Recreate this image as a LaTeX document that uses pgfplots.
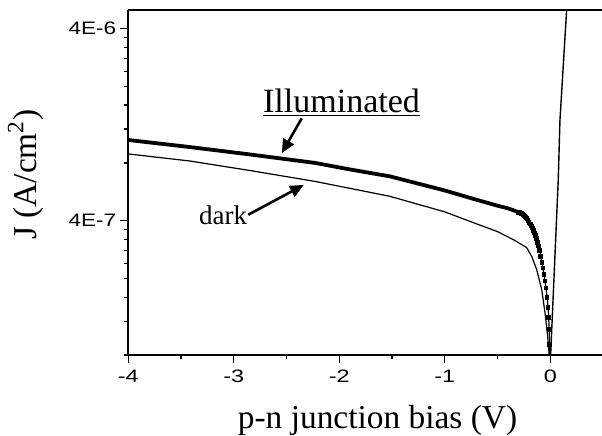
\documentclass[border=0pt]{standalone}
\usepackage{fontspec}
\setmainfont{Liberation Serif}
\newfontfamily\tickfont{Liberation Sans}
\usepackage{pgfplots}
\pgfplotsset{compat=1.18}
\usetikzlibrary{arrows.meta}

\begin{document}
\begin{tikzpicture}
\begin{axis}[
  scale only axis,
  width=237.35pt, height=172.5pt,
  ymode=log,
  xmin=-4, xmax=0.5,
  ymin=8e-8, ymax=5e-6,
  axis x line=box, axis y line=left,
  x axis line style={-}, y axis line style={-},
  axis line style={line width=0.9pt},
  xtick={-4,-3,-2,-1,0},
  xticklabels={-4,-3,-2,-1,0},
  minor xtick={-3.5,-2.5,-1.5,-0.5},
  ytick={4e-7,4e-6},
  yticklabels={4E-7,4E-6},
  minor ytick={8e-8,1.2e-7,1.6e-7,2e-7,2.4e-7,2.8e-7,3.2e-7,3.6e-7,8e-7,1.2e-6,1.6e-6,2e-6,2.4e-6,2.8e-6,3.2e-6,3.6e-6},
  xtick pos=left, ytick pos=left,
  tick align=outside,
  major tick length=4pt, minor tick length=2.2pt,
  every tick/.style={line width=0.7pt, black},
  xticklabel style={font=\tickfont\fontsize{9}{10}\selectfont, xscale=1.3},
  yticklabel style={font=\tickfont\fontsize{9}{10}\selectfont, xscale=1.25, inner xsep=1.5pt},
  xlabel={p-n junction bias (V)},
  ylabel={J (A/cm\textsuperscript{2})},
  xlabel style={font=\fontsize{16.7}{18}\selectfont, at={(axis description cs:0.525,-0.2116)}, anchor=base},
  ylabel style={font=\fontsize{16.7}{18}\selectfont, at={(axis description cs:-0.1944,0.523)}, anchor=base},
  clip=true,
]
\coordinate (bl) at (rel axis cs:0,0);
\coordinate (tr) at (rel axis cs:1,1);

% Illuminated, main part
\addplot[black, line width=1.9pt] coordinates {
(-4.00,1.053e-6) (-3.42,9.68e-7) (-2.85,8.86e-7) (-2.23,8.00e-7) (-1.90,7.40e-7)
(-1.52,6.81e-7) (-1.00,5.75e-7) (-0.75,5.24e-7) (-0.50,4.79e-7) (-0.40,4.64e-7) (-0.30,4.43e-7)
};
% Illuminated, knee with visible markers
\addplot[black, line width=0.6pt, mark=square*, mark size=0.85pt] coordinates {
(-0.30,4.43e-7) (-0.29,4.40e-7) (-0.28,4.38e-7) (-0.27,4.35e-7) (-0.26,4.30e-7) (-0.25,4.27e-7)
(-0.24,4.22e-7) (-0.23,4.17e-7) (-0.22,4.10e-7) (-0.21,4.02e-7) (-0.20,3.93e-7) (-0.19,3.84e-7)
(-0.18,3.75e-7) (-0.17,3.66e-7) (-0.16,3.55e-7) (-0.15,3.45e-7) (-0.14,3.34e-7) (-0.13,3.23e-7)
(-0.12,3.09e-7) (-0.11,2.95e-7) (-0.10,2.80e-7) (-0.09,2.60e-7) (-0.08,2.42e-7) (-0.07,2.27e-7)
(-0.06,2.10e-7) (-0.05,1.94e-7) (-0.04,1.79e-7) (-0.03,1.59e-7) (-0.02,1.41e-7) (-0.015,1.25e-7)
(-0.01,1.09e-7) (-0.007,9.09e-8) (-0.005,6e-8) (-0.003,2e-8)
};
% Dark
\addplot[black, line width=0.6pt] coordinates {
(-4.00,8.91e-7) (-3.42,8.19e-7) (-2.85,7.31e-7) (-2.23,6.41e-7) (-1.90,5.90e-7)
(-1.52,5.36e-7) (-1.00,4.45e-7) (-0.75,3.95e-7) (-0.50,3.51e-7) (-0.35,3.19e-7)
(-0.224,2.90e-7) (-0.176,2.61e-7) (-0.129,2.23e-7) (-0.081,1.75e-7) (-0.050,1.33e-7)
(-0.025,1.00e-7) (-0.012,8.26e-8) (-0.006,3e-8) (-0.002,5e-9)
};
% Forward branch
\addplot[black, line width=0.7pt] coordinates {
(0.001,2e-8) (0.0038,8.07e-8) (0.0758,6.53e-7) (0.092,1.337e-6) (0.155,4.98e-6) (0.162,6e-6)
};

\node[font=\fontsize{17}{18}\selectfont, anchor=base] at (axis cs:-1.979,1.472e-6) {\underline{Illuminated}};
\draw[line width=1.3pt, -{Triangle[length=7pt,width=6pt]}] (axis cs:-2.356,1.365e-6) -- (axis cs:-2.546,8.98e-7);
\node[font=\fontsize{13.5}{14}\selectfont, anchor=base] at (axis cs:-3.102,3.81e-7) {dark};
\draw[line width=1.3pt, -{Triangle[length=7pt,width=6pt]}] (axis cs:-2.863,4.30e-7) -- (axis cs:-2.335,6.15e-7);
\end{axis}
\pgfresetboundingbox
\path[use as bounding box] ([xshift=-64.15pt,yshift=-40pt]bl) rectangle ([xshift=-0.5pt,yshift=5pt]tr);
\end{tikzpicture}
\end{document}
